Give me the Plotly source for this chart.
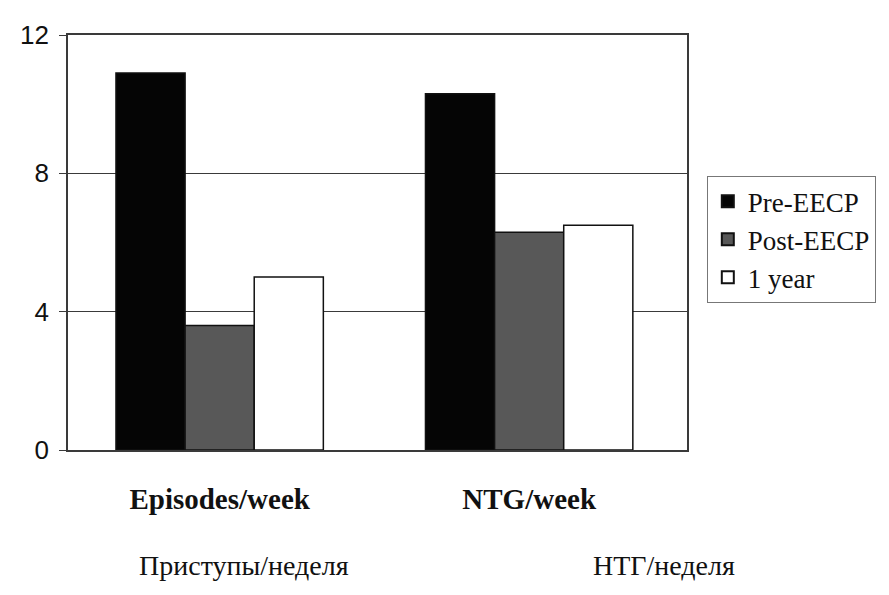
import plotly.graph_objects as go

categories = ["Episodes/week", "NTG/week"]
series_names = ["Pre-EECP", "Post-EECP", "1 year"]
pre_eecp = [10.9, 10.3]
post_eecp = [3.6, 6.3]
one_year = [5.0, 6.5]
y_ticks = [0, 4, 8, 12]
ru_labels = ["Приступы/неделя", "НТГ/неделя"]

fills = ["#050505", "#585858", "#ffffff"]
values = [pre_eecp, post_eecp, one_year]

fig = go.Figure()
for name, vals, col in zip(series_names, values, fills):
    fig.add_trace(go.Bar(
        x=categories, y=vals, name=name,
        marker=dict(color=col, line=dict(color="#111111", width=1.5)),
    ))

fig.update_layout(
    width=889, height=595,
    margin=dict(l=55, r=210, t=27, b=153),
    paper_bgcolor="white", plot_bgcolor="white",
    barmode="group", bargap=0.33, bargroupgap=0,
    showlegend=True,
    legend=dict(
        x=1.032, y=0.66, xanchor="left", yanchor="top",
        bordercolor="#777777", borderwidth=1,
        font=dict(family="Liberation Serif", size=27, color="#111111"),
        tracegroupgap=4, itemsizing="constant", itemwidth=30,
    ),
    font=dict(family="Liberation Serif", color="#111111"),
)

fig.update_yaxes(
    range=[0, 12], tickvals=y_ticks, ticktext=[str(v) + "\u2009" for v in y_ticks],
    showgrid=True, gridcolor="#3a3a3a", gridwidth=1.3,
    showline=True, linecolor="#3a3a3a", linewidth=1.5, mirror=True,
    ticks="outside", ticklen=7, tickcolor="#3a3a3a",
    tickfont=dict(family="Liberation Sans", size=26, color="#111111"),
    zeroline=False,
)
fig.update_xaxes(
    range=[-0.49, 1.51], autorange=False,
    showline=True, linecolor="#3a3a3a", linewidth=1.5, mirror=True,
    ticks="", ticklabelstandoff=22,
    tickfont=dict(family="Liberation Serif", size=29, color="#111111", weight="bold"),
)

for i, lab in enumerate(ru_labels):
    fig.add_annotation(
        x=categories[i], y=0, xref="x", yref="paper",
        text=lab, showarrow=False, yshift=-115, yanchor="middle",
        font=dict(family="Liberation Serif", size=28, color="#111111"),
        xshift=24 if i == 0 else 135,
    )

fig.write_html("out.html")
